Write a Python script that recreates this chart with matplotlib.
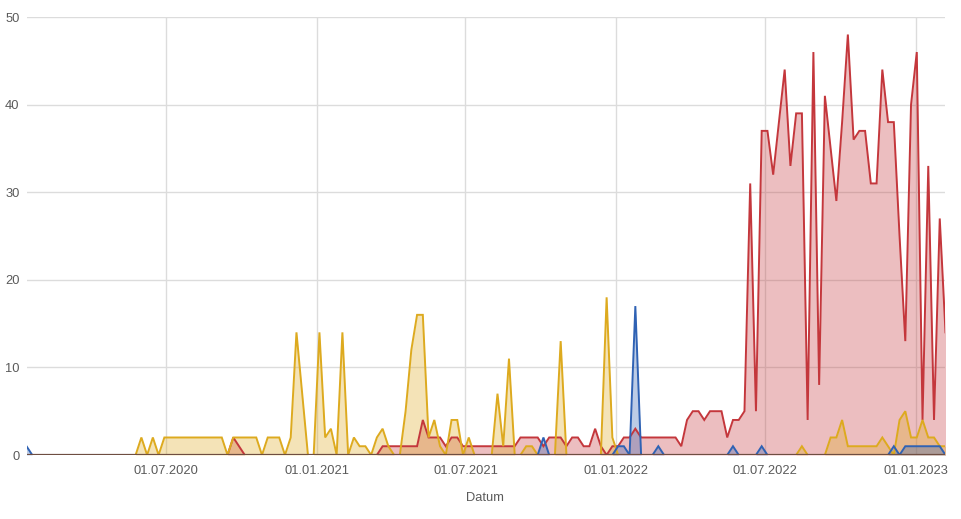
import matplotlib
matplotlib.use("Agg")
import matplotlib.pyplot as plt
import pandas as pd

# weekly observations
start_date = "2020-01-13"
n_points = 161
dates = pd.date_range(start_date, periods=n_points, freq="7D")

red_values = [
    0, 0, 0, 0, 0, 0, 0, 0, 0, 0, 0, 0, 0, 0, 0, 0, 0, 0, 0, 0,
    0, 0, 0, 0, 0, 0, 0, 0, 0, 0, 0, 0, 0, 0, 0, 0, 2, 1, 0, 0,
    0, 0, 0, 0, 0, 0, 0, 0, 0, 0, 0, 0, 0, 0, 0, 0, 0, 0, 0, 0,
    0, 0, 1, 1, 1, 1, 1, 1, 1, 4, 2, 2, 2, 1, 2, 2, 1, 1, 1, 1,
    1, 1, 1, 1, 1, 1, 2, 2, 2, 2, 1, 2, 2, 2, 1, 2, 2, 1, 1, 3,
    1, 0, 1, 1, 2, 2, 3, 2, 2, 2, 2, 2, 2, 2, 1, 4, 5, 5, 4, 5,
    5, 5, 2, 4, 4, 5, 31, 5, 37, 37, 32, 38, 44, 33, 39, 39, 4, 46, 8, 41,
    35, 29, 38, 48, 36, 37, 37, 31, 31, 44, 38, 38, 25, 13, 40, 46, 4, 33, 4, 27,
    14,
]

yellow_values = [
    0, 0, 0, 0, 0, 0, 0, 0, 0, 0, 0, 0, 0, 0, 0, 0, 0, 0, 0, 0,
    2, 0, 2, 0, 2, 2, 2, 2, 2, 2, 2, 2, 2, 2, 2, 0, 2, 2, 2, 2,
    2, 0, 2, 2, 2, 0, 2, 14, 7, 0, 0, 14, 2, 3, 0, 14, 0, 2, 1, 1,
    0, 2, 3, 1, 0, 0, 5, 12, 16, 16, 2, 4, 1, 0, 4, 4, 0, 2, 0, 0,
    0, 0, 7, 1, 11, 0, 0, 1, 1, 0, 0, 0, 0, 13, 0, 0, 0, 0, 0, 0,
    0, 18, 2, 0, 0, 0, 0, 0, 0, 0, 0, 0, 0, 0, 0, 0, 0, 0, 0, 0,
    0, 0, 0, 0, 0, 0, 0, 0, 0, 0, 0, 0, 0, 0, 0, 1, 0, 0, 0, 0,
    2, 2, 4, 1, 1, 1, 1, 1, 1, 2, 1, 0, 4, 5, 2, 2, 4, 2, 2, 1,
    1,
]

blue_values = [
    1, 0, 0, 0, 0, 0, 0, 0, 0, 0, 0, 0, 0, 0, 0, 0, 0, 0, 0, 0,
    0, 0, 0, 0, 0, 0, 0, 0, 0, 0, 0, 0, 0, 0, 0, 0, 0, 0, 0, 0,
    0, 0, 0, 0, 0, 0, 0, 0, 0, 0, 0, 0, 0, 0, 0, 0, 0, 0, 0, 0,
    0, 0, 0, 0, 0, 0, 0, 0, 0, 0, 0, 0, 0, 0, 0, 0, 0, 0, 0, 0,
    0, 0, 0, 0, 0, 0, 0, 0, 0, 0, 2, 0, 0, 0, 0, 0, 0, 0, 0, 0,
    0, 0, 0, 1, 1, 0, 17, 0, 0, 0, 1, 0, 0, 0, 0, 0, 0, 0, 0, 0,
    0, 0, 0, 1, 0, 0, 0, 0, 1, 0, 0, 0, 0, 0, 0, 0, 0, 0, 0, 0,
    0, 0, 0, 0, 0, 0, 0, 0, 0, 0, 0, 1, 0, 1, 1, 1, 1, 1, 1, 1,
    0,
]

tick_dates = ["2020-07-01", "2021-01-01", "2021-07-01", "2022-01-01", "2022-07-01", "2023-01-01"]
y_ticks = [0, 10, 20, 30, 40, 50]
x_title = "Datum"

series = [
    (red_values, "#c4373c"),
    (yellow_values, "#ddaa1f"),
    (blue_values, "#2f62b4"),
]

plt.rcParams["font.family"] = ["Liberation Sans", "DejaVu Sans"]

W, H = 962, 519
fig = plt.figure(figsize=(W / 100, H / 100), dpi=100)
left, right, top, bottom = 26.5, 945.5, 17, 455
ax = fig.add_axes([left / W, 1 - bottom / H, (right - left) / W, (bottom - top) / H])

for vals, col in series:
    ax.fill_between(dates, 0, vals, color=col, alpha=0.32, linewidth=0, zorder=2)
    ax.plot(dates, vals, color=col, linewidth=1.4, zorder=3, solid_joinstyle="miter")

ax.set_xlim(dates[0], dates[-1])
ax.set_ylim(0, 50)
ax.set_yticks(y_ticks)
ax.set_yticklabels([str(v) for v in y_ticks])
tds = pd.to_datetime(tick_dates)
ax.set_xticks(tds)
ax.set_xticklabels([d.strftime("%d.%m.%Y") for d in tds])

ax.grid(True, color="#dcdcdc", linewidth=1.0, zorder=0)
ax.set_axisbelow(True)
for s in ax.spines.values():
    s.set_visible(False)
# baseline drawn over the zero-level series lines
ax.axhline(0, color="#6e4e42", linewidth=1.6, zorder=4)
ax.tick_params(axis="both", length=0, labelsize=9.3, colors="#5a5a5a")
ax.tick_params(axis="x", pad=7)
ax.tick_params(axis="y", pad=5)

fig.text(485 / W, 1 - 498 / H, x_title, ha="center", va="center", fontsize=9.3, color="#5a5a5a")

fig.savefig("out.png", dpi=100)
